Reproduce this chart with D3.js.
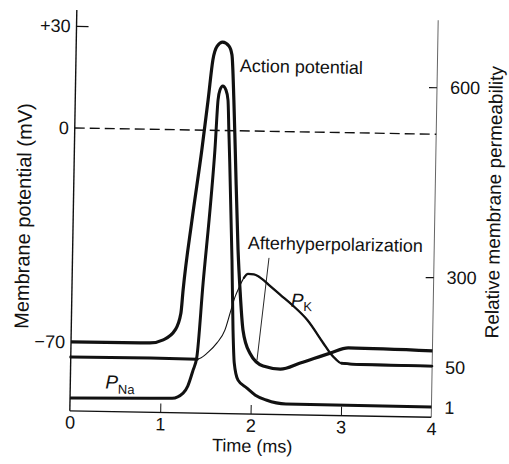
<!DOCTYPE html>
<html><head><meta charset="utf-8">
<script src="https://cdn.jsdelivr.net/npm/d3@7"></script>
<style>
body{margin:0;background:#fff}
svg{display:block}
text{font-family:"Liberation Sans",Arial,Helvetica,sans-serif;fill:#111}
</style>
</head><body>
<svg id="c" width="509" height="464"></svg>
<script>
// ---- data ----
const timeTicks = [0, 1, 2, 3, 4];
const voltageTicks = [30, 0, -70];
const voltageTickLabels = ["+30", "0", "\u221270"];
const permTicks = [600, 300, 50, 1];

// Action potential (mV vs ms)
const apTime = [0, 0.87, 1.02, 1.15, 1.21, 1.23, 1.315, 1.41, 1.47, 1.515, 1.56, 1.62, 1.69, 1.725, 1.755, 1.78, 1.83, 1.86, 1.90, 1.98, 2.13, 2.32, 2.54, 2.87, 3.07, 4];
const apMV   = [-70, -69.9, -68.8, -65.5, -60, -52.4, -29.4, -6.5, 8.9, 20.7, 24.8, 26, 24.9, 22.3, 9, -6.3, -38.9, -52.1, -65.1, -72.6, -76.8, -77.7, -75.6, -72.2, -70.4, -70.9];

// Sodium permeability (relative)
const pnaTime  = [0, 0.88, 1.13, 1.25, 1.30, 1.355, 1.395, 1.45, 1.52, 1.555, 1.58, 1.60, 1.63, 1.665, 1.69, 1.705, 1.72, 1.765, 1.79, 1.81, 1.855, 1.955, 2.05, 2.17, 2.39, 4];
const pnaValue = [4.5, 6, 6.5, 13, 21.7, 41, 67, 273, 416, 495, 574, 590, 596, 590, 574, 527, 480, 322, 144, 52, 30, 20.5, 12, 6.3, 1.8, 1.2];

// Potassium permeability (relative)
const pkTime  = [0, 0.88, 1.40, 1.52, 1.615, 1.70, 1.755, 1.805, 1.85, 1.90, 1.945, 2.01, 2.10, 2.19, 2.31, 2.44, 2.61, 2.79, 2.87, 2.935, 2.99, 3.20, 4];
const pkValue = [61, 62, 61, 81, 107, 143, 191, 235, 263, 289, 300, 299, 287, 268, 243, 216, 175, 112, 84, 67, 57, 54, 53];

// ---- layout ----
const svg = d3.select("#c");
const g = svg.append("g").attr("transform", "rotate(1,250,230)");

const plotTop = 13, plotBottom = 414;
const x  = d3.scaleLinear().domain([0, 4]).range([73, 434.5]);
const yV = d3.scaleLinear().domain([-70, 0, 30]).range([345, 131, 29]);
const yP = d3.scaleLinear().domain([1, 50, 300, 600]).range([404, 364, 274, 84]);

const ink = "#111";
const fs = 18;

// frame lines
g.append("line").attr("x1", x(0)).attr("x2", x(0)).attr("y1", plotTop).attr("y2", plotBottom)
  .attr("stroke", ink).attr("stroke-width", 1.4);
g.append("line").attr("x1", x(4)).attr("x2", x(4)).attr("y1", plotTop + 4).attr("y2", plotBottom)
  .attr("stroke", "#555").attr("stroke-width", 0.9);
g.append("line").attr("x1", x(0)).attr("x2", x(4)).attr("y1", plotBottom).attr("y2", plotBottom)
  .attr("stroke", ink).attr("stroke-width", 1.4);

// bottom axis
const xAxis = g.append("g").attr("transform", `translate(0,${plotBottom})`)
  .call(d3.axisBottom(x).tickValues(timeTicks).tickSizeInner(-9).tickSizeOuter(0).tickPadding(5).tickFormat(d3.format("d")));
xAxis.select(".domain").remove();
xAxis.selectAll(".tick line").attr("stroke", ink).attr("stroke-width", 1)
  .attr("display", d => (d === 0 || d === 4) ? "none" : null);
xAxis.selectAll(".tick text").attr("font-size", fs).attr("font-family", null).attr("fill", ink);

// left axis
const yAxisL = g.append("g").attr("transform", `translate(${x(0)},0)`)
  .call(d3.axisLeft(yV).tickValues(voltageTicks).tickSizeInner(-12).tickSizeOuter(0).tickPadding(6)
    .tickFormat((d, i) => voltageTickLabels[i]));
yAxisL.select(".domain").remove();
yAxisL.selectAll(".tick line").attr("stroke", ink).attr("stroke-width", 1.2)
  .attr("display", d => d === 30 ? null : "none");
yAxisL.selectAll(".tick text").attr("font-size", fs).attr("font-family", null).attr("fill", ink);

// right axis
const yAxisR = g.append("g").attr("transform", `translate(${x(4)},0)`)
  .call(d3.axisRight(yP).tickValues(permTicks).tickSizeInner(-8).tickSizeOuter(0).tickPadding(13));
yAxisR.select(".domain").remove();
yAxisR.selectAll(".tick line").attr("stroke", ink).attr("stroke-width", 1.2)
  .attr("display", d => (d === 600 || d === 300) ? null : "none");
yAxisR.selectAll(".tick text").attr("font-size", fs).attr("font-family", null).attr("fill", ink);

// zero-mV dashed line
g.append("line").attr("x1", x(0)).attr("x2", x(4)).attr("y1", yV(0)).attr("y2", yV(0))
  .attr("stroke", ink).attr("stroke-width", 1.4).attr("stroke-dasharray", "10,5");

// curves
const lineV = d3.line().x(d => x(d[0])).y(d => yV(d[1])).curve(d3.curveMonotoneX);
const lineP = d3.line().x(d => x(d[0])).y(d => yP(d[1])).curve(d3.curveMonotoneX);

const apData  = apTime.map((t, i) => [t, apMV[i]]);
const pnaData = pnaTime.map((t, i) => [t, pnaValue[i]]);
const pkData  = pkTime.map((t, i) => [t, pkValue[i]]);

// PK: thin full path, thick overlays
g.append("path").attr("d", lineP(pkData)).attr("fill", "none").attr("stroke", ink).attr("stroke-width", 1.1);
g.append("path").attr("d", lineP(pkData.slice(0, 3))).attr("fill", "none").attr("stroke", ink).attr("stroke-width", 3).attr("stroke-linecap", "round");
g.append("path").attr("d", lineP(pkData.slice(9))).attr("fill", "none").attr("stroke", ink).attr("stroke-width", 2.3).attr("stroke-linecap", "round");
g.append("path").attr("d", lineP(pkData.slice(20))).attr("fill", "none").attr("stroke", ink).attr("stroke-width", 2.8);

g.append("path").attr("d", lineP(pnaData)).attr("fill", "none").attr("stroke", ink).attr("stroke-width", 3).attr("stroke-linejoin", "round");
g.append("path").attr("d", lineV(apData)).attr("fill", "none").attr("stroke", ink).attr("stroke-width", 3.2).attr("stroke-linejoin", "round");

// annotations
g.append("text").attr("x", 237).attr("y", 72).attr("font-size", fs).text("Action potential");
g.append("text").attr("x", 248).attr("y", 249).attr("font-size", fs).text("Afterhyperpolarization");
g.append("line")
  .attr("x1", x(2.174)).attr("y1", yV(-41.4)).attr("x2", x(2.061)).attr("y2", yV(-74.9))
  .attr("stroke", ink).attr("stroke-width", 0.9);

const pk = g.append("text").attr("x", 292).attr("y", 306).attr("font-size", 19);
pk.append("tspan").attr("font-style", "italic").text("P");
pk.append("tspan").attr("font-size", 13).attr("dy", 4).text("K");

const pna = g.append("text").attr("x", 108).attr("y", 391).attr("font-size", 19);
pna.append("tspan").attr("font-style", "italic").text("P");
pna.append("tspan").attr("font-size", 13).attr("dy", 5).text("Na");

// axis titles
g.append("text").attr("x", 256).attr("y", 452).attr("text-anchor", "middle").attr("font-size", fs).text("Time (ms)");
g.append("text").attr("transform", "translate(30,220) rotate(-90)").attr("text-anchor", "middle")
  .attr("font-size", 20).text("Membrane potential (mV)");
g.append("text").attr("transform", "translate(500,198) rotate(-90)").attr("text-anchor", "middle")
  .attr("font-size", 19).text("Relative membrane permeability");
</script>
</body></html>
